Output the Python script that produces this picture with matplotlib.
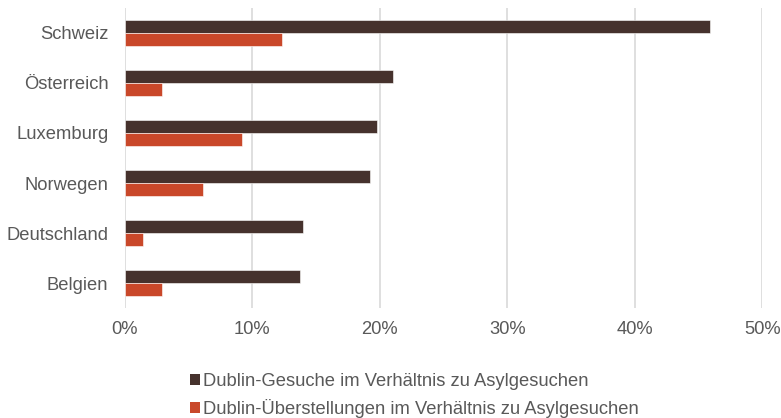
import matplotlib.pyplot as plt
import numpy as np
from matplotlib.patches import Patch
from matplotlib.ticker import FuncFormatter

DARK_COLOR = "#46322d"
RED_COLOR = "#c9482a"
TEXT_COLOR = "#595959"
GRID_COLOR = "#d9d9d9"

countries = ["Schweiz", "Österreich", "Luxemburg", "Norwegen", "Deutschland", "Belgien"]
gesuche = [45.9, 21.0, 19.8, 19.2, 14.0, 13.75]
ueberstellungen = [12.3, 2.9, 9.2, 6.1, 1.4, 2.9]
series_labels = ["Dublin-Gesuche im Verhältnis zu Asylgesuchen",
                 "Dublin-Überstellungen im Verhältnis zu Asylgesuchen"]

plt.rcParams["font.family"] = ["Liberation Sans", "DejaVu Sans"]

fig = plt.figure(figsize=(7.81, 4.18), dpi=100)
ax = fig.add_axes([0.160, 0.263, 0.816, 0.718])

y = np.arange(len(countries))
h = 0.26
ax.barh(y - h / 2, gesuche, height=h, color=DARK_COLOR, edgecolor="white", linewidth=0.4, zorder=3)
ax.barh(y + h / 2, ueberstellungen, height=h, color=RED_COLOR, edgecolor="white", linewidth=0.4, zorder=3)

ax.set_xlim(0, 50)
ax.set_ylim(len(countries) - 0.5, -0.5)
ax.set_xticks(np.arange(0, 51, 10))
ax.xaxis.set_major_formatter(FuncFormatter(lambda v, p: f"{v:.0f}%"))
ax.set_yticks(y)
ax.set_yticklabels(countries)

ax.grid(axis="x", color=GRID_COLOR, linewidth=1.2, zorder=0)
for s in ax.spines.values():
    s.set_visible(False)
ax.tick_params(axis="both", length=0, labelsize=13.2, labelcolor=TEXT_COLOR)
ax.tick_params(axis="x", pad=9)
ax.tick_params(axis="y", pad=12)

handles = [Patch(facecolor=DARK_COLOR, label=series_labels[0]),
           Patch(facecolor=RED_COLOR, label=series_labels[1])]
fig.legend(handles=handles, loc="upper left", bbox_to_anchor=(0.2435, 0.108),
           frameon=False, fontsize=13.2, labelcolor=TEXT_COLOR,
           handlelength=0.55, handleheight=0.55, handletextpad=0.15, labelspacing=0.5,
           borderpad=0, borderaxespad=0)

fig.savefig("out.png", dpi=100, facecolor="white")
